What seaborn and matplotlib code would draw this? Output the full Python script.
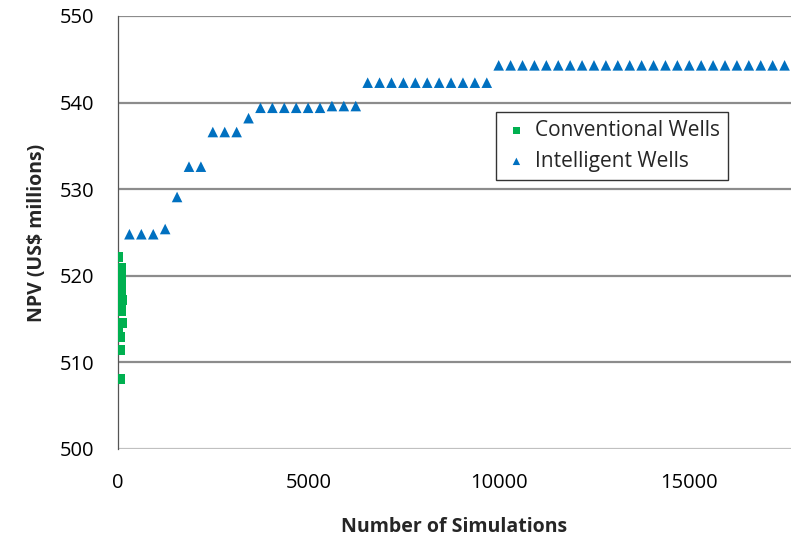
import numpy as np
import pandas as pd
import matplotlib
matplotlib.use("Agg")
import matplotlib.pyplot as plt
import seaborn as sns

sns.set_theme(style="white")
plt.rcParams["font.family"] = ["Open Sans", "DejaVu Sans"]

# Conventional wells: a few dozen runs right at the start
conv_sims = [10, 0, 75, 75, 75, 75, 75, 75, 75, 75, 75, 75, 75, 105, 0, 100, 55, 55, 55]
conv_npv = [522.2, 519.9, 520.9, 520.4, 519.9, 519.4, 518.9, 518.4, 517.9, 517.4,
            516.9, 516.4, 515.9, 517.2, 514.0, 514.5, 512.9, 511.4, 508.1]

# Intelligent wells: best NPV found vs number of simulations
intel_sims = [300, 613, 926, 1239, 1552, 1865, 2178, 2491, 2804, 3117,
              3430, 3743, 4056, 4369, 4682, 4995, 5308, 5621, 5934, 6247,
              6560, 6873, 7186, 7499, 7812, 8125, 8438, 8751, 9064, 9377,
              9690, 10003, 10316, 10629, 10942, 11255, 11568, 11881, 12194, 12507,
              12820, 13133, 13446, 13759, 14072, 14385, 14698, 15011, 15324, 15637,
              15950, 16263, 16576, 16889, 17202, 17515]
intel_npv = [524.8, 524.8, 524.8, 525.4, 529.1, 532.6, 532.6, 536.6, 536.6, 536.6,
             538.2, 539.4, 539.4, 539.4, 539.4, 539.4, 539.4, 539.6, 539.6, 539.6,
             542.3, 542.3, 542.3, 542.3, 542.3, 542.3, 542.3, 542.3, 542.3, 542.3,
             542.3, 544.3, 544.3, 544.3, 544.3, 544.3, 544.3, 544.3, 544.3, 544.3,
             544.3, 544.3, 544.3, 544.3, 544.3, 544.3, 544.3, 544.3, 544.3, 544.3,
             544.3, 544.3, 544.3, 544.3, 544.3, 544.3]

y_ticks = [500, 510, 520, 530, 540, 550]
x_ticks = [0, 5000, 10000, 15000]

conv = pd.DataFrame({"sims": conv_sims, "npv": conv_npv})
intel = pd.DataFrame({"sims": intel_sims, "npv": intel_npv})

fig = plt.figure(figsize=(7.91, 5.42), dpi=100)
ax = fig.add_axes([0.1492, 0.1716, 0.8508, 0.7989])

# gridlines
for v in y_ticks[1:]:
    ax.axhline(v, color="#8c8c8c", lw=1.6, zorder=1)
ax.axhline(500, color="#c0c0c0", lw=1.6, zorder=1)

sns.scatterplot(data=conv, x="sims", y="npv", marker="s", s=52, color="#00B050",
                edgecolor="none", label="Conventional Wells", ax=ax, zorder=3)
sns.scatterplot(data=intel, x="sims", y="npv", marker="^", s=58, color="#0070C0",
                edgecolor="none", label="Intelligent Wells", ax=ax, zorder=3)

ax.set_xlim(0, 17684)
ax.set_ylim(500, 550)
ax.set_xticks(x_ticks)
ax.set_yticks(y_ticks)
ax.tick_params(axis="both", length=0, labelsize=14.5, colors="black")
ax.tick_params(axis="x", pad=17)
ax.tick_params(axis="y", pad=17)

for side in ["top", "right", "bottom"]:
    ax.spines[side].set_visible(False)
ax.spines["left"].set_color("#555555")
ax.spines["left"].set_linestyle((0, (2, 1)))
ax.spines["left"].set_linewidth(0.9)
ax.spines["left"].set_zorder(2)

ax.set_xlabel("Number of Simulations", fontsize=14, fontweight="bold", va="center")
ax.set_ylabel("NPV (US$ millions)", fontsize=14, fontweight="bold")
ax.xaxis.set_label_coords(0.5, -0.18)
ax.yaxis.set_label_coords(-0.105, 0.5)

leg = ax.legend(loc="upper left", bbox_to_anchor=(0.561, 0.778), frameon=True,
                fancybox=False, edgecolor="black", fontsize=15, handletextpad=0.3,
                borderpad=0.4, labelspacing=0.45, handlelength=1.2, markerscale=0.7,
                borderaxespad=0)
leg.get_frame().set_linewidth(1.0)

fig.savefig("out.png", dpi=100)
